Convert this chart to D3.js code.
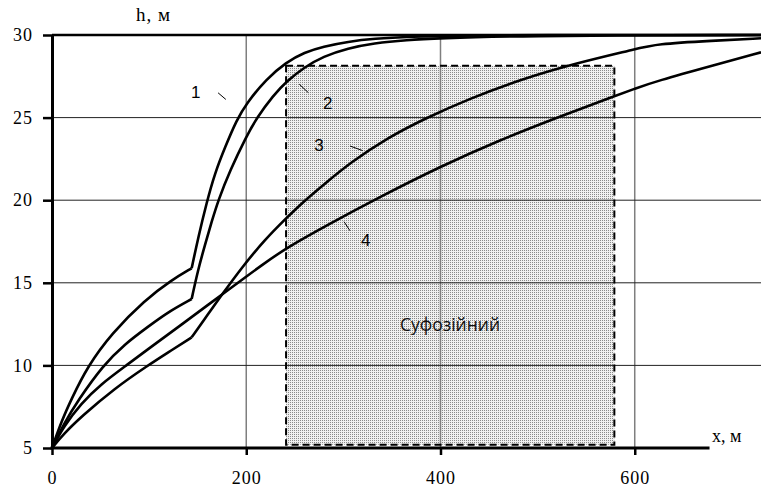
<!DOCTYPE html>
<html>
<head>
<meta charset="utf-8">
<script src="https://cdn.jsdelivr.net/npm/d3@7"></script>
<style>
  body { margin: 0; background: #fff; }
  svg { display: block; }
</style>
</head>
<body>
<svg id="chart" width="761" height="490"></svg>
<script>
// curves h(x); 1-3 have a kink at x = 144 where the regime changes
const curve1 = [[0,5],[10,6.65],[20.3,8.0],[36.4,9.92],[61.4,11.94],[95.6,13.96],[123.2,15.17],[143.8,15.88],
  [150.6,17.75],[159.2,19.85],[167.8,21.65],[178.1,23.2],[190.1,24.85],[200,25.85],[221,27.35],[241,28.35],
  [260,28.95],[279,29.3],[305,29.6],[331,29.78],[370,29.9],[420,29.97],[480,30],[730,30]]
const curve2 = [[0,5],[12,6.45],[27,7.9],[52.5,10],[75,11.3],[98.8,12.34],[120,13.25],[143.8,14.02],
  [150,15.7],[157.5,17.3],[164.4,18.7],[171.2,20.0],[183.3,21.8],[200,23.85],[211,25.0],[228,26.35],[241.5,27.2],
  [260,28.05],[279,28.7],[305,29.2],[331,29.5],[365,29.7],[400,29.8],[470,29.95],[730,30]]
const curve3 = [[0,5],[12,5.85],[30.2,6.9],[64.5,8.61],[98.8,10.0],[120,10.8],[143.8,11.7],
  [160.6,13.1],[174,14.2],[195,15.9],[219,17.6],[241,18.9],[258.6,19.9],[282,21.05],[306.7,22.25],[346,23.8],
  [386,25.0],[430,26.15],[482,27.3],[540,28.3],[600,29.13],[622,29.46],[680,29.65],[730,29.8]]
const curve4 = [[0,5],[12,6.3],[30,7.7],[50,8.85],[76.5,10],[105,11.25],[133,12.45],[160.6,13.66],[174,14.25],
  [219,16.2],[241,17.1],[285,18.55],[337.7,20.2],[399.5,22.03],[461,23.64],[520,25.0],[579,26.3],[600,26.75],
  [622,27.2],[680,28.15],[730,28.95]]
const series = [curve1, curve2, curve3, curve4]
const kinks = [143.8, 143.8, 143.8, null]

const xTicks = [0, 200, 400, 600]
const yTicks = [5, 10, 15, 20, 25, 30]
const xGrid = [200, 400, 600]
const yGrid = [10, 15, 20, 25]

// suffosion zone
const zone = { x0: 241, x1: 579, y0: 5.2, y1: 28.14, label: "Суфозійний" }

const curveLabels = [
  { text: "1", x: 148, y: 26.55, lx: [171, 179], ly: [26.5, 26.1] },
  { text: "2", x: 284, y: 25.88, lx: [254.6, 263.9], ly: [27.02, 26.51] },
  { text: "3", x: 275, y: 23.34, lx: [306.8, 319.9], ly: [23.28, 23.0] },
  { text: "4", x: 323, y: 17.6, lx: [300.7, 306.8], ly: [18.7, 18.15] }
]

const xAxisEnd = 677

let svg = d3.select("#chart")
let x = d3.scaleLinear().domain([0, 730]).range([52, 761])
let y = d3.scaleLinear().domain([5, 30]).range([448, 35])

// dotted fill
let pat = svg.append("defs").append("pattern")
  .attr("id", "dots").attr("width", 2).attr("height", 2)
  .attr("patternUnits", "userSpaceOnUse")
pat.append("rect").attr("width", 2).attr("height", 2).attr("fill", "#f0f0f0")
pat.append("rect").attr("width", 1).attr("height", 1).attr("fill", "#8a8a8a")

svg.append("rect")
  .attr("x", x(zone.x0)).attr("y", y(zone.y1))
  .attr("width", x(zone.x1) - x(zone.x0))
  .attr("height", y(zone.y0) - y(zone.y1))
  .attr("fill", "url(#dots)")

// grid
svg.selectAll(".vgrid").data(xGrid).enter().append("line")
  .attr("x1", d => x(d)).attr("x2", d => x(d))
  .attr("y1", y(30)).attr("y2", y(5))
  .attr("stroke", "#7f7f7f").attr("stroke-width", 1.5)
svg.selectAll(".hgrid").data(yGrid).enter().append("line")
  .attr("x1", x(0)).attr("x2", 761)
  .attr("y1", d => y(d)).attr("y2", d => y(d))
  .attr("stroke", "#222").attr("stroke-width", 1)

svg.append("text")
  .attr("x", 450).attr("y", 331)
  .attr("text-anchor", "middle")
  .attr("font-family", "Open Sans, sans-serif").attr("font-size", 17.5)
  .attr("fill", "#111")
  .text(zone.label)

// zone border
svg.append("rect")
  .attr("x", x(zone.x0)).attr("y", y(zone.y1))
  .attr("width", x(zone.x1) - x(zone.x0))
  .attr("height", y(zone.y0) - y(zone.y1))
  .attr("fill", "none").attr("stroke", "#000")
  .attr("stroke-width", 2).attr("stroke-dasharray", "7,4")

// top frame line
svg.append("line")
  .attr("x1", x(0)).attr("x2", 761).attr("y1", y(30)).attr("y2", y(30))
  .attr("stroke", "#000").attr("stroke-width", 2.5)

// axes
let yAxis = svg.append("g").attr("transform", `translate(${x(0)},0)`)
  .call(d3.axisLeft(y).tickValues(yTicks).tickSize(9).tickSizeOuter(0).tickPadding(10))
yAxis.select(".domain").attr("stroke-width", 3)
yAxis.selectAll(".tick line").attr("stroke-width", 2.5)
yAxis.selectAll("text").attr("font-family", "Liberation Serif, serif").attr("font-size", 18)
  .attr("fill", "#000").attr("letter-spacing", 1)

let xAxis = svg.append("g").attr("transform", `translate(0,${y(5)})`)
  .call(d3.axisBottom(x).tickValues(xTicks).tickSize(7).tickSizeOuter(0).tickPadding(16))
xAxis.select(".domain").remove()
xAxis.selectAll(".tick line").attr("stroke-width", 2.5)
xAxis.selectAll("text").attr("font-family", "Liberation Serif, serif").attr("font-size", 18)
  .attr("fill", "#000").attr("letter-spacing", 1)
svg.append("line")
  .attr("x1", x(0) - 1.5).attr("x2", x(xAxisEnd)).attr("y1", y(5)).attr("y2", y(5))
  .attr("stroke", "#000").attr("stroke-width", 3)

svg.append("text").attr("x", 136).attr("y", 21)
  .attr("font-family", "Liberation Serif, serif").attr("font-size", 19)
  .attr("letter-spacing", 1)
  .text("h, м")
svg.append("text").attr("x", 712).attr("y", 442)
  .attr("font-family", "Liberation Serif, serif").attr("font-size", 18)
  .text("x, м")

// curves, split at the kink so it stays sharp
let line = d3.line().x(d => x(d[0])).y(d => y(d[1])).curve(d3.curveBasis)
series.forEach((s, i) => {
  let k = kinks[i]
  let parts = k == null ? [s] : [s.filter(d => d[0] <= k), s.filter(d => d[0] >= k)]
  parts.forEach(part => {
    svg.append("path").attr("d", line(part))
      .attr("fill", "none").attr("stroke", "#000")
      .attr("stroke-width", 2.6).attr("stroke-linejoin", "round")
  })
})

// curve numbers
curveLabels.forEach(l => {
  svg.append("text").attr("x", x(l.x)).attr("y", y(l.y)).attr("dy", "0.36em")
    .attr("text-anchor", "middle")
    .attr("font-family", "Liberation Sans, Arial, sans-serif").attr("font-size", 17)
    .text(l.text)
  svg.append("line")
    .attr("x1", x(l.lx[0])).attr("x2", x(l.lx[1]))
    .attr("y1", y(l.ly[0])).attr("y2", y(l.ly[1]))
    .attr("stroke", "#000").attr("stroke-width", 1)
})
</script>
</body>
</html>
